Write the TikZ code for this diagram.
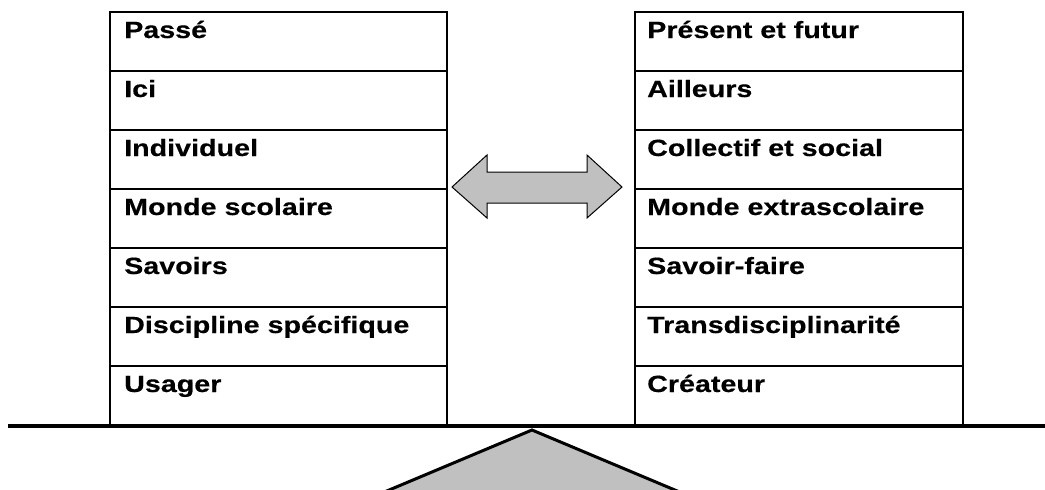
\documentclass[tikz,border=0pt]{standalone}
\usepackage{fontspec}
\setmainfont{Liberation Sans}[FakeStretch=1.22, FakeBold=0.4]
\definecolor{fillgray}{RGB}{192,192,192}
\begin{document}
\begin{tikzpicture}[x=1pt,y=-1pt,
  cell/.style={draw=black, line width=2pt, minimum width=337pt, minimum height=59pt, inner sep=0pt, anchor=north west},
  rcell/.style={cell, minimum width=328pt},
  txt/.style={anchor=base west, inner sep=0pt, font=\fontsize{23.5}{28}\selectfont\bfseries}]
\useasboundingbox (0,0) rectangle (1045,490);
% left table
\foreach \i/\t in {1/Passé,2/Ici,3/Individuel,4/Monde scolaire,5/Savoirs,6/Discipline spécifique,7/Usager}{
  \node[cell] (L\i) at (109,{11+(\i-1)*59}) {};
  \node[txt] (LT\i) at ([shift={(15pt,-27pt)}]L\i.north west) {\t};
}
% right table
\foreach \i/\t in {1/Présent et futur,2/Ailleurs,3/Collectif et social,4/Monde extrascolaire,5/Savoir-faire,6/Transdisciplinarité,7/Créateur}{
  \node[rcell] (R\i) at (634,{11+(\i-1)*59}) {};
  \node[txt] (RT\i) at ([shift={(13pt,-27pt)}]R\i.north west) {\t};
}
% double arrow
\draw[fill=fillgray, line width=1pt, line join=miter]
  (452,187) -- (487,155) -- (487,172) -- (587,172) -- (587,155) -- (622,187)
  -- (587,218) -- (587,203) -- (487,203) -- (487,218) -- cycle;
% beam
\draw[line width=4.5pt] (8,426) -- (1045,426);
% fulcrum
\draw[fill=fillgray, line width=3pt, line join=miter] (532,430) -- (682,493) -- (382,493) -- cycle;
\end{tikzpicture}
\end{document}
